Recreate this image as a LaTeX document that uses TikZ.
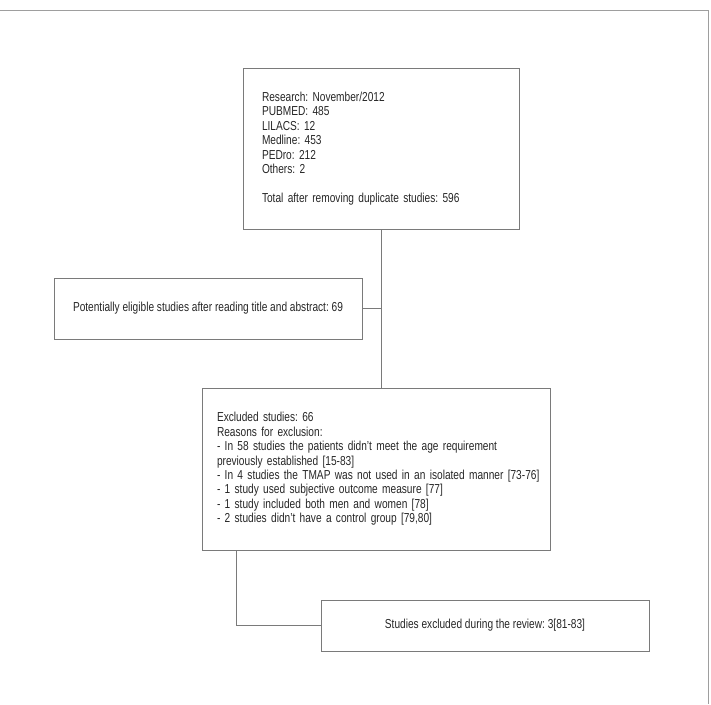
\documentclass[tikz,border=0pt]{standalone}
\usepackage{fontspec}
\setmainfont{Liberation Sans}[FakeStretch=0.78]
\usepackage{xcolor}
\usepackage{tikz}
\definecolor{framegray}{gray}{0.62}
\definecolor{boxgray}{gray}{0.48}
\definecolor{inkgray}{gray}{0.15}
\frenchspacing

\begin{document}
\begin{tikzpicture}[x=1pt, y=-1pt,
    box/.style={draw=boxgray, line width=0.9pt, text=inkgray, rectangle,
      font=\fontsize{13}{14.4}\selectfont},
    link/.style={draw=boxgray, line width=0.9pt}]
  \useasboundingbox (0,0) rectangle (711,704);
  % ------- outer frame: top and right only -------
  \draw[framegray, line width=1.6pt] (0,10.5) -- (708.5,10.5) -- (708.5,704);
  % ------- boxes -------
  \node[box, minimum width=276pt, minimum height=161pt, inner xsep=19pt,
    text width=238pt, align=left] (research) at (381,148.5)
    {Research: November/2012\\ PUBMED: 485\\ LILACS: 12\\ Medline: 453\\
     PEDro: 212\\ Others: 2\\[14.4pt] Total after removing duplicate studies: 596};
  \node[box, minimum width=308pt, minimum height=61pt, align=center] (eligible) at (208,308.5)
    {Potentially eligible studies after reading title and abstract: 69};
  \node[box, minimum width=348pt, minimum height=162pt, inner xsep=15pt,
    text width=318pt, align=left] (excluded) at (376,469)
    {Excluded studies: 66\\ Reasons for exclusion:\\
     - In 58 studies the patients didn't meet the age requirement\\
     previously established [15-83]\\
     \mbox{- In 4 studies the TMAP was not used in an isolated manner [73-76]}\\
     - 1 study used subjective outcome measure [77]\\
     - 1 study included both men and women [78]\\
     - 2 studies didn't have a control group [79,80]};
  \node[box, minimum width=328pt, minimum height=51pt, align=center] (review) at (485,625.5)
    {Studies excluded during the review: 3[81-83]};
  % ------- connectors -------
  \draw[link] (research.south) -- (research.south |- excluded.north);
  \draw[link] (eligible.east) -- (eligible.east -| research.south);
  \coordinate (bend) at (236,625.5);
  \draw[link] (excluded.south -| bend) -- (bend) -- (review.west);
\end{tikzpicture}
\end{document}
